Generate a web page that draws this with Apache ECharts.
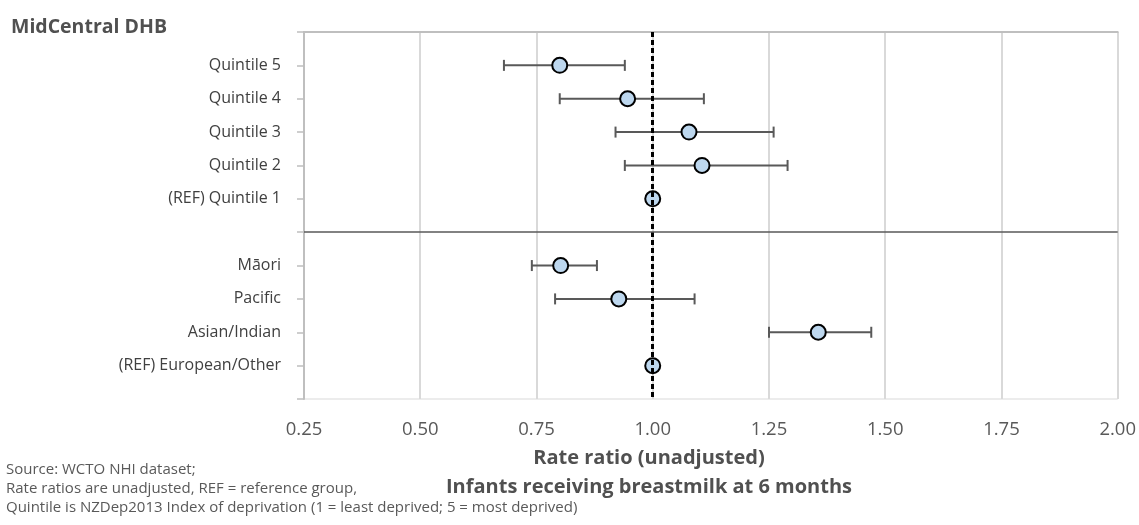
<!DOCTYPE html>
<html>
<head>
<meta charset="utf-8">
<script src="https://cdn.jsdelivr.net/npm/echarts@6/dist/echarts.min.js"></script>
<style>html,body{margin:0;padding:0;background:#fff}#c{width:1139px;height:525px}</style>
</head>
<body>
<div id="c"></div>
<script>
// Row labels on the y axis (top to bottom), blanks are spacer rows
const rowLabels = ['', 'Quintile 5', 'Quintile 4', 'Quintile 3', 'Quintile 2', '(REF) Quintile 1', '', 'Māori', 'Pacific', 'Asian/Indian', '(REF) European/Other', ''];
// Rate ratio point estimates per row (null = no mark)
const rateRatio = [null, 0.80, 0.946, 1.078, 1.106, 1.00, null, 0.802, 0.927, 1.356, 1.00, null];
// Confidence interval bounds
const lowerCI = [null, 0.68, 0.80, 0.92, 0.94, null, null, 0.74, 0.79, 1.25, null, null];
const upperCI = [null, 0.94, 1.11, 1.26, 1.29, null, null, 0.88, 1.09, 1.47, null, null];
// X-axis ticks
const xTicks = [0.25, 0.50, 0.75, 1.00, 1.25, 1.50, 1.75, 2.00];
const referenceValue = 1.00;
const separatorRow = 6;

const FONT = 'Open Sans';
const pointData = [];
const barData = [];
rateRatio.forEach((v, i) => { if (v !== null) pointData.push([v, i]); });
lowerCI.forEach((lo, i) => { if (lo !== null) barData.push([lo, upperCI[i], i]); });

const chart = echarts.init(document.getElementById('c'), null, {renderer: 'canvas'});
chart.setOption({
  animation: false,
  backgroundColor: '#fff',
  textStyle: {fontFamily: FONT},
  title: {
    text: 'MidCentral DHB', left: 6, top: 12,
    textStyle: {fontFamily: FONT, fontSize: 19.5, fontWeight: 'bold', color: '#505050'}
  },
  graphic: [
    {type: 'text', x: 649, y: 458, style: {text: 'Rate ratio (unadjusted)', font: 'bold 20px "Open Sans"', fill: '#505050', align: 'center', verticalAlign: 'middle'}},
    {type: 'text', x: 649, y: 487, style: {text: 'Infants receiving breastmilk at 6 months', font: 'bold 20px "Open Sans"', fill: '#505050', align: 'center', verticalAlign: 'middle'}},
    {type: 'text', x: 6, y: 470, style: {text: 'Source: WCTO NHI dataset;', font: '15px "Open Sans"', fill: '#595959', verticalAlign: 'middle'}},
    {type: 'text', x: 6, y: 489, style: {text: 'Rate ratios are unadjusted, REF = reference group,', font: '15px "Open Sans"', fill: '#595959', verticalAlign: 'middle'}},
    {type: 'text', x: 6, y: 508, style: {text: 'Quintile is NZDep2013 Index of deprivation (1 = least deprived; 5 = most deprived)', font: '15px "Open Sans"', fill: '#595959', verticalAlign: 'middle'}}
  ],
  grid: {left: 304, right: 20, top: 32, bottom: 126, show: true, borderColor: '#d9d9d9', borderWidth: 1},
  xAxis: {
    type: 'value', min: xTicks[0], max: xTicks[xTicks.length - 1], interval: 0.25,
    axisLine: {show: true, lineStyle: {color: '#bfbfbf', width: 2}},
    axisTick: {show: false},
    splitLine: {show: true, lineStyle: {color: '#d9d9d9', width: 2}},
    axisLabel: {fontFamily: FONT, fontSize: 18.5, color: '#595959', margin: 21, formatter: v => v.toFixed(2)}
  },
  yAxis: {
    type: 'value', inverse: true, min: 0, max: rowLabels.length - 1, interval: 1,
    axisLine: {show: true, lineStyle: {color: '#bfbfbf', width: 2}},
    axisTick: {show: true, length: 7, lineStyle: {color: '#bfbfbf', width: 1.5}},
    splitLine: {show: false},
    axisLabel: {fontFamily: FONT, fontSize: 16, color: '#404040', margin: 23, formatter: v => rowLabels[v] || ''}
  },
  series: [
    {
      type: 'custom', z: 1,
      data: barData,
      renderItem: function (params, api) {
        const lo = api.coord([api.value(0), api.value(2)]);
        const hi = api.coord([api.value(1), api.value(2)]);
        const h = 5.5;
        const style = {stroke: '#595959', lineWidth: 2, fill: null};
        return {type: 'group', children: [
          {type: 'line', shape: {x1: lo[0], y1: lo[1], x2: hi[0], y2: hi[1]}, style: style},
          {type: 'line', shape: {x1: lo[0], y1: lo[1] - h, x2: lo[0], y2: lo[1] + h}, style: style},
          {type: 'line', shape: {x1: hi[0], y1: hi[1] - h, x2: hi[0], y2: hi[1] + h}, style: style}
        ]};
      }
    },
    {
      type: 'scatter', z: 2, data: [], silent: true,
      markLine: {
        silent: true, symbol: 'none', label: {show: false},
        data: [
          {xAxis: referenceValue, lineStyle: {color: '#000', width: 3, type: [5, 3]}},
          {yAxis: separatorRow, lineStyle: {color: '#595959', width: 1.5, type: 'solid'}}
        ]
      }
    },
    {
      type: 'scatter', z: 3, data: pointData, symbol: 'circle', symbolSize: 15,
      itemStyle: {color: '#BDD7EE', borderColor: '#000', borderWidth: 2, opacity: 1}
    }
  ]
});
</script>
</body>
</html>
